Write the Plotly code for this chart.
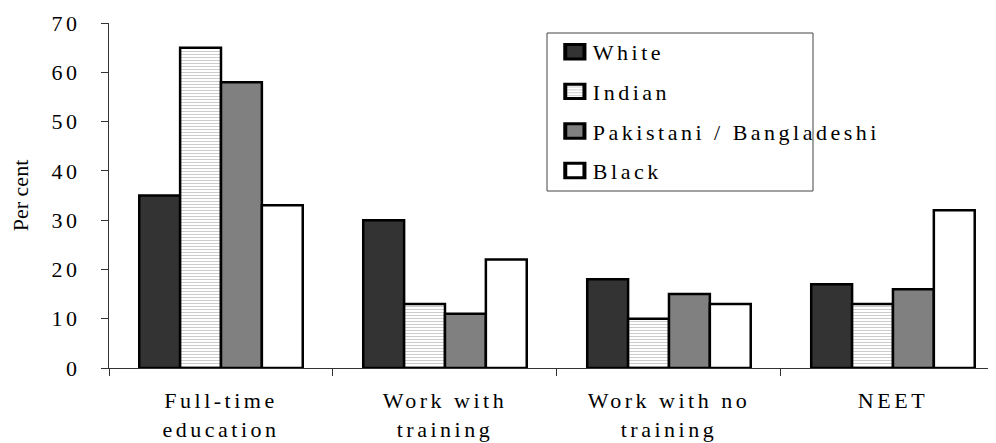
import plotly.graph_objects as go

categories = ["Full-time<br>education", "Work with<br>training", "Work with no<br>training", "NEET"]
series_names = ["White", "Indian", "Pakistani / Bangladeshi", "Black"]
white_vals = [35, 30, 18, 17]
indian_vals = [65, 13, 10, 13]
pak_vals = [58, 11, 15, 16]
black_vals = [33, 22, 13, 32]
y_ticks = [0, 10, 20, 30, 40, 50, 60, 70]

FONT = "Liberation Serif, Times New Roman, serif"

values = [white_vals, indian_vals, pak_vals, black_vals]
styles = [
    dict(color="#333333"),
    dict(color="white", pattern=dict(shape="-", fgcolor="#9a9a9a", bgcolor="white", size=3, solidity=0.35)),
    dict(color="#808080"),
    dict(color="white"),
]

fig = go.Figure()
for name, vals, st in zip(series_names, values, styles):
    fig.add_trace(go.Bar(
        x=categories, y=vals, name=name, legendgroup=name,
        marker=dict(line=dict(color="black", width=2.5), **st),
    ))

# page body has an 8px margin, so the figure is 8px smaller than the window
fig.update_layout(
    width=988, height=435,
    margin=dict(l=101, r=0, t=15, b=75, autoexpand=False),
    paper_bgcolor="white", plot_bgcolor="white",
    barmode="group", bargap=0.27, bargroupgap=0,
    font=dict(family=FONT, size=22, color="black"),
    legend=dict(
        x=0.5004, y=0.977, xanchor="left", yanchor="top",
        borderwidth=0, bgcolor="rgba(0,0,0,0)",
        font=dict(family=FONT, size=22, color="black"),
        tracegroupgap=8, itemwidth=30,
    ),
    shapes=[dict(
        type="rect", xref="paper", yref="paper",
        x0=0.4938, x1=0.7937, y0=0.513, y1=0.971,
        line=dict(color="#444444", width=1), fillcolor="rgba(0,0,0,0)", layer="below",
    )],
    showlegend=True,
)
fig.update_xaxes(
    range=[-0.5, 3.46], showline=True, linecolor="#333333", linewidth=1,
    ticks="outside", tickson="boundaries", ticklen=7, tickcolor="#333333",
    showgrid=False, tickfont=dict(family=FONT, size=22), ticklabelstandoff=13,
    automargin=False,
)
fig.update_yaxes(
    range=[0, 70], tickvals=y_ticks, showline=True, linecolor="#333333", linewidth=1,
    ticks="outside", ticklen=7, tickcolor="#333333", showgrid=False, zeroline=False,
    tickfont=dict(family=FONT, size=22), ticklabelstandoff=16,
    title=dict(text="Per cent", font=dict(family=FONT, size=22), standoff=33),
    automargin=False,
)

spacing_js = """
var gd = document.getElementById('{plot_id}');
function restyleText() {
  gd.querySelectorAll('.xtick text, .ytick text, .legendtext').forEach(function(e) {
    e.style.letterSpacing = '3.5px';
  });
  gd.querySelectorAll('.legend [clip-path]').forEach(function(e) {
    e.removeAttribute('clip-path');
  });
  gd.querySelectorAll('.legend .legendpoints path').forEach(function(e) {
    e.setAttribute('transform', 'translate(22,0) scale(1.6,1.2)');
  });
}
restyleText();
gd.on('plotly_afterplot', restyleText);
"""

fig.write_html("out.html", post_script=spacing_js)
